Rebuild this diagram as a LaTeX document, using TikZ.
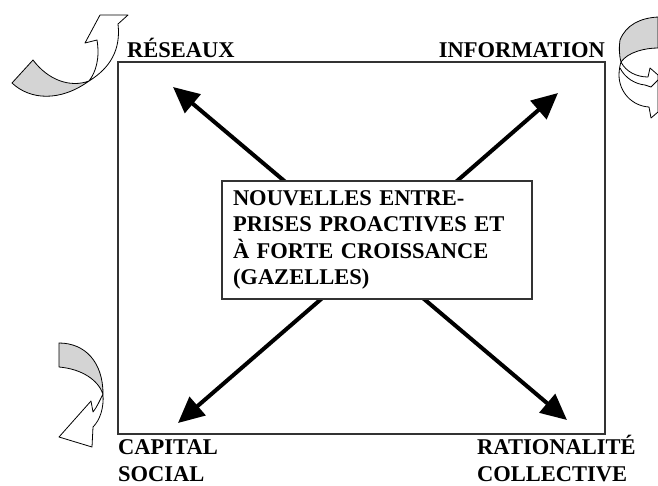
\documentclass[tikz,border=0pt]{standalone}
\usepackage{fontspec}
\setmainfont{Liberation Serif}
\usetikzlibrary{arrows.meta}
\pgfdeclarelayer{bg}
\pgfdeclarelayer{fg}
\pgfsetlayers{bg,main,fg}

\begin{document}
\begin{tikzpicture}[x=1pt, y=-1pt,
    corner/.style={font=\bfseries\fontsize{22.5}{26.5}\selectfont, inner sep=0pt, align=left},
    spoke/.style={line width=4pt, -{Triangle[length=26pt,width=24pt]}},
    ribbon/.style={draw=black, line width=0.8pt, fill=white, line join=round},
    backside/.style={ribbon, fill=black!17}]
                        \useasboundingbox (0,0) rectangle (658,485);

                        \draw[line width=1.3pt, black!80] (118,62) rectangle (605,434);

                        \node[corner, anchor=base west] (reseaux) at (127,57) {RÉSEAUX};
                        \node[corner, anchor=base east] (information) at (605,57) {INFORMATION};
                        \node[corner, anchor=base west, text depth=0pt] (capital) at (118,481) {CAPITAL\\SOCIAL};
                        \node[corner, anchor=base west, text depth=0pt] (rationalite) at (477,481) {RATIONALITÉ\\COLLECTIVE};

                        \node[corner, draw=black!80, line width=1.3pt, fill=white, text width=288pt,
                              minimum height=118pt, inner xsep=11pt, inner ysep=6pt] (gazelles) at (377,240)
                              {NOUVELLES ENTRE-\\PRISES PROACTIVES ET\\À FORTE CROISSANCE\\(GAZELLES)};

                        \coordinate (hub) at (372,255);
                        \coordinate (tl) at (173,87);
                        \coordinate (tr) at (558,93);
                        \coordinate (bl) at (178,423);
                        \coordinate (br) at (567,420);
                        \begin{pgfonlayer}{bg}
                            \foreach \tip in {tl,tr,bl,br} {
                                \draw[spoke] (hub) -- (\tip);
                            }
                        \end{pgfonlayer}

                        % curved arrow, top left
                        \draw[backside] (12,83) .. controls (30,100) and (60,102) .. (89,81)
                            .. controls (70,88) and (48,80) .. (33,60) -- cycle;
                        \draw[ribbon] (89,81) .. controls (110,68) and (121,50) .. (118,24)
                            -- (128,15) -- (100,15) -- (85,43) -- (97,40)
                            .. controls (100,58) and (96,72) .. (89,81) -- cycle;

                        % curved arrow, top right
                        \draw[backside] (620,40) .. controls (626,25) and (640,18) .. (658,17)
                            -- (658,48) .. controls (645,48) and (628,52) .. (621,62)
                            .. controls (619,55) and (619,46) .. (620,40) -- cycle;
                        \draw[ribbon] (621,62) .. controls (626,72) and (637,77) .. (648,77)
                            -- (650,68) -- (658,75) -- (658,112) -- (651,118) -- (649,107)
                            .. controls (632,106) and (619,92) .. (619,75)
                            .. controls (619,70) and (620,65) .. (621,62) -- cycle;
                        \draw[ribbon, fill=none] (658,80) -- (651,87) -- (645,85)
                            .. controls (635,84) and (625,78) .. (620,68);

                        % curved arrow, bottom left
                        \draw[backside] (59,343) .. controls (85,343) and (103,362) .. (103,394)
                            .. controls (98,380) and (82,369) .. (59,367) -- cycle;
                        \draw[ribbon] (103,394) .. controls (104,408) and (100,420) .. (93,427)
                            -- (92,447) -- (59,437) -- (91,401) -- (93,412)
                            .. controls (97,407) and (100,400) .. (103,394) -- cycle;
                    \end{tikzpicture}
\end{document}
